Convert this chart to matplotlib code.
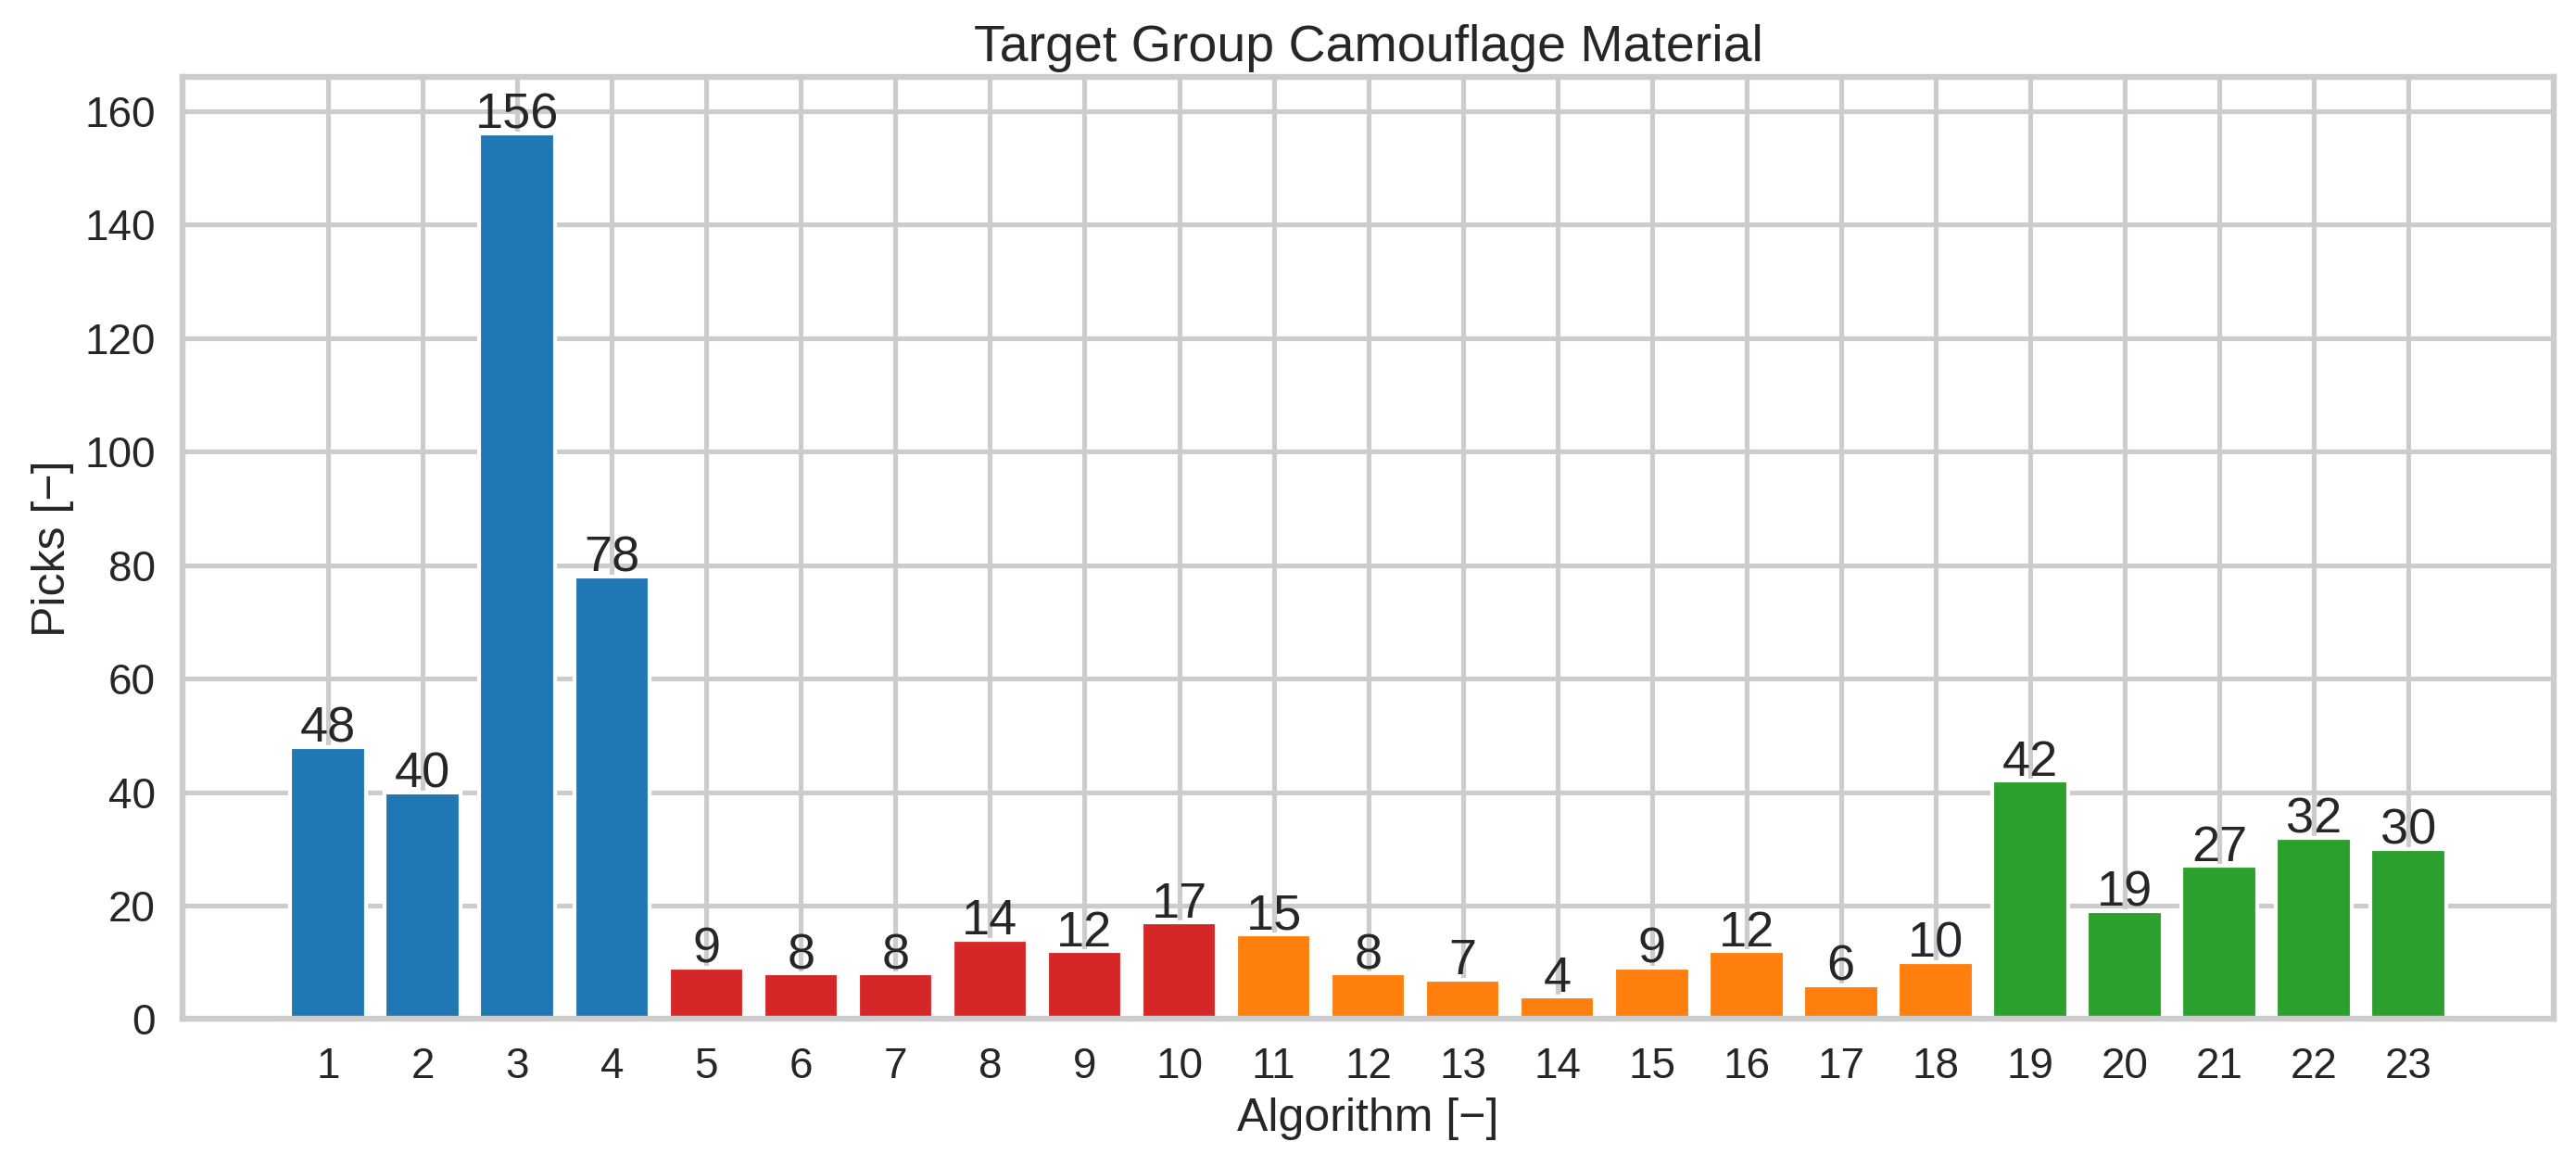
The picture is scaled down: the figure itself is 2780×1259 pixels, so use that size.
import matplotlib.pyplot as plt
import seaborn as sns

# Picks per algorithm
algorithms = list(range(1, 24))
picks = [48, 40, 156, 78, 9, 8, 8, 14, 12, 17, 15, 8, 7, 4, 9, 12, 6, 10, 42, 19, 27, 32, 30]

# group of each algorithm -> colour
groups = ["A"] * 4 + ["B"] * 6 + ["C"] * 8 + ["D"] * 5
group_colors = {"A": "tab:blue", "B": "tab:red", "C": "tab:orange", "D": "tab:green"}

title = "Target Group Camouflage Material"
x_label = "Algorithm [\u2212]"
y_label = "Picks [\u2212]"


def setup_style():
    sns.set_theme(style="whitegrid", context="talk")
    plt.rcParams["font.family"] = ["Liberation Sans", "DejaVu Sans"]
    plt.rcParams["axes.edgecolor"] = "#cccccc"
    plt.rcParams["axes.linewidth"] = 2.3
    plt.rcParams["grid.linewidth"] = 1.85
    plt.rcParams["grid.color"] = "#cccccc"
    plt.rcParams["xtick.major.size"] = 0
    plt.rcParams["ytick.major.size"] = 0
    plt.rcParams["xtick.major.pad"] = 10.5
    plt.rcParams["ytick.major.pad"] = 10.5


def plot_picks():
    fig, ax = plt.subplots(figsize=(13.9, 6.295), dpi=200)
    fig.subplots_adjust(left=0.0709, right=0.9914, top=0.9341, bottom=0.1267)

    colors = [group_colors[g] for g in groups]
    bars = ax.bar(algorithms, picks, width=0.8, color=colors)
    ax.bar_label(bars, labels=[str(p) for p in picks], padding=-2,
                 fontsize=19.5, color="#262626")

    ax.set_xticks(algorithms)
    ax.set_ylim(0, 166)
    ax.tick_params(axis="both", labelsize=16.5, colors="#262626")

    ax.set_title(title, fontsize=20, color="#262626")
    ax.set_xlabel(x_label, fontsize=18, color="#262626", labelpad=4)
    ax.set_ylabel(y_label, fontsize=18, color="#262626")
    ax.set_axisbelow(True)

    fig.savefig("out.png", dpi=200)


setup_style()
plot_picks()
